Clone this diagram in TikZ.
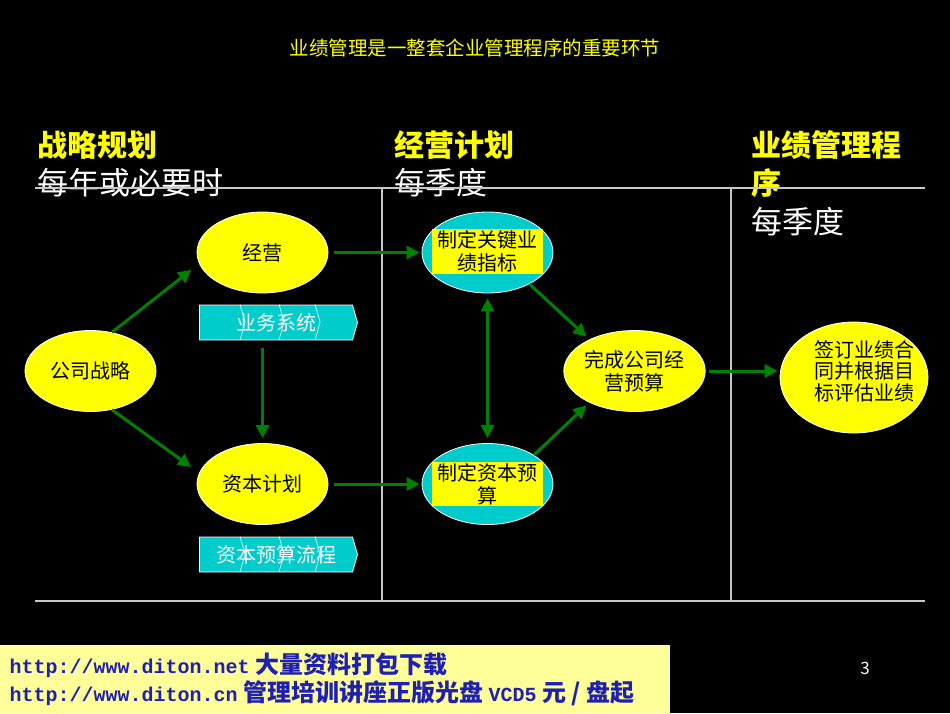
\documentclass[tikz,border=0pt]{standalone}
\usepackage{fontspec}
\setmainfont{Noto Sans CJK SC}
\newfontfamily\urlfont{Liberation Mono}
\usetikzlibrary{shapes.geometric,shapes.symbols,arrows.meta}
\definecolor{bubble}{HTML}{FFFF00}
\definecolor{lagoon}{HTML}{00CCCC}
\definecolor{flow}{HTML}{008000}
\definecolor{rulegray}{HTML}{C8C8C8}
\definecolor{notepad}{HTML}{FFFF99}
\definecolor{linkblue}{HTML}{1F1FB4}
\tikzset{>={Triangle[length=13pt,width=13pt]}}
\tikzset{
  oval/.style={ellipse, fill=bubble, draw=white, line width=0.8pt,
    minimum width=131pt, minimum height=81pt, inner sep=0pt,
    align=center, font=\fontsize{20}{23}\selectfont},
  tealoval/.style={oval, fill=lagoon},
  tagbox/.style={rectangle, fill=bubble, minimum width=111pt, inner sep=0pt,
    align=center, font=\fontsize{20}{23}\selectfont},
  chevbar/.style={signal, signal to=east, signal pointer angle=148,
    fill=lagoon, draw=white, line width=0.8pt, minimum width=158pt,
    minimum height=35pt, inner sep=0pt, text=white,
    font=\fontsize{20}{22}\selectfont},
  flowline/.style={draw=flow, line width=3pt, ->},
  head/.style={anchor=west, inner sep=0pt, text=bubble, align=left,
    font=\bfseries\fontsize{30}{38}\selectfont},
  sub/.style={anchor=west, inner sep=0pt, text=white,
    font=\fontsize{31}{33}\selectfont},
}

\begin{document}
\begin{tikzpicture}[x=1pt,y=-1pt]
  \useasboundingbox[fill=black] (0,0) rectangle (950,713);
  % title
  \node[text=bubble, font=\fontsize{19.5}{21}\selectfont] (title) at (475,48)
    {业绩管理是一整套企业管理程序的重要环节};
  % column heads
  \node[head] (strat) at (37,145) {战略规划};
  \node[sub] (stratwhen) at (37,183) {每年或必要时};
  \node[head] (plan) at (394,145) {经营计划};
  \node[sub] (planwhen) at (394,183) {每季度};
  \node[head] (perf) at (751,164) {业绩管理程\\序};
  \node[sub] (perfwhen) at (751,222) {每季度};
  % frame
  \draw[rulegray, line width=1.5pt] (35,188) -- (925,188);
  \draw[rulegray, line width=1.5pt] (35,601) -- (925,601);
  \foreach \x in {382,731} {
    \draw[rulegray, line width=1.5pt] (\x,188) -- (\x,601);
  }
  % bubbles
  \node[oval] (corp) at (90.5,371) {公司战略};
  \node[oval] (ops) at (262.5,252.5) {经营};
  \node[oval] (capital) at (262.5,484) {资本计划};
  \node[tealoval] (kpi) at (487.5,252.5) {};
  \node[tagbox, minimum height=45pt] at (487.5,251.5) {制定关键业\\绩指标};
  \node[tealoval] (capbud) at (487.5,484) {};
  \node[tagbox, minimum height=44pt] at (487.5,484) {制定资本预\\算};
  \node[oval] (budget) at (634.5,371) {完成公司经\\营预算};
  \node[oval, minimum width=148pt, minimum height=111pt] (contract) at (854,377.5) {};
  \node[align=center, font=\fontsize{20}{21.5}\selectfont] at (864,371)
    {签订业绩合\\同并根据目\\标评估业绩};
  % process bars
  \node[chevbar] (bizsys) at (276,322.5) {业务系统};
  \node[chevbar] (capflow) at (276,554.5) {资本预算流程};
  \foreach \bar in {bizsys,capflow} {
    \foreach \dx in {41,80,116} {
      \draw[white, line width=0.6pt] (\bar.north west) ++(\dx,0)
        -- ++(5,17.5) -- ++(-5,17.5);
    }
  }
  % arrows
  \draw[flowline, shorten >=10pt] (corp.61) -- (ops.190);
  \draw[flowline, shorten >=10pt] (corp.-61) -- (capital.170);
  \draw[flowline, shorten <=8pt, shorten >=5pt] (bizsys.south -| capital.north) -- (capital.north);
  \draw[flowline, shorten <=6pt, shorten >=2pt] (ops.east) -- (kpi.west);
  \draw[flowline, shorten <=6pt, shorten >=2pt] (capital.east) -- (capbud.west);
  \draw[flowline, <->, shorten <=5pt, shorten >=5pt] (kpi.south) -- (capbud.north);
  \draw[flowline, shorten >=4pt] (kpi.-37) -- (budget.145);
  \draw[flowline, shorten >=4pt] (capbud.32) -- (budget.215);
  \draw[flowline, shorten <=3pt, shorten >=2pt] (budget.east) -- (budget.east -| contract.west);
  % footer
  \fill[notepad] (0,645) rectangle (670,713);
  \node[anchor=west, text=linkblue, font=\bfseries\fontsize{24}{26}\selectfont] (site1) at (6,665)
    {{\urlfont\fontsize{20}{24}\selectfont http://www.diton.net} 大量资料打包下载};
  \node[anchor=west, text=linkblue, font=\bfseries\fontsize{24}{26}\selectfont] (site2) at (6,693)
    {{\urlfont\fontsize{20}{24}\selectfont http://www.diton.cn} 管理培训讲座正版光盘 {\urlfont\fontsize{20}{24}\selectfont VCD5} 元 / 盘起};
  \node[text=white, font=\fontsize{17}{19}\selectfont] (pageno) at (865,668) {3};
\end{tikzpicture}
\end{document}
